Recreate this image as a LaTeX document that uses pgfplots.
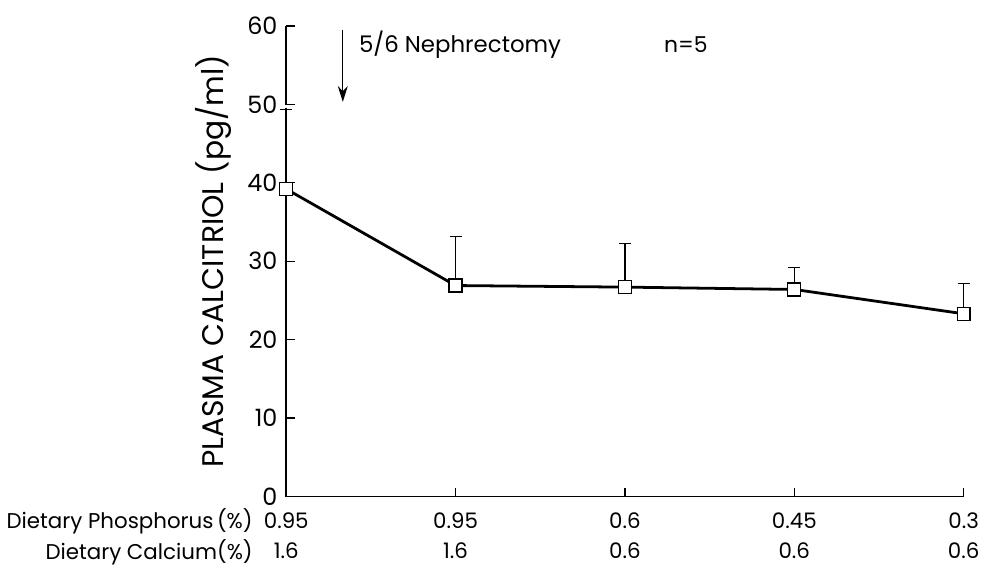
\documentclass[border=0pt]{standalone}
\usepackage{fontspec}
\setmainfont{Poppins}
\usepackage{pgfplots}
\pgfplotsset{compat=1.18}
\usetikzlibrary{arrows.meta}
\begin{document}
\fontsize{20}{24}\selectfont
\begin{tikzpicture}
\begin{axis}[
  scale only axis, width=682pt, height=474pt,
  xmin=0, xmax=4, ymin=0, ymax=60,
  axis lines=left, axis line style={-, line width=1.6pt},
  tick style={line width=1.4pt, black},
  tick align=inside, major tick length=9pt,
  ytick={0,10,20,30,40,50,60},
  xtick={0,1,2,3,4},
  xticklabels={{0.95\\1.6},{0.95\\1.6},{0.6\\0.6},{0.45\\0.6},{0.3\\0.6}},
  xticklabel style={align=center, font=\fontsize{21.5}{31}\selectfont, yshift=-9pt},
  yticklabel style={font=\fontsize{24}{28}\selectfont, xshift=-2pt},
  /pgf/number format/assume math mode=true,
  ylabel={PLASMA CALCITRIOL (pg/ml)},
  ylabel style={at={(axis description cs:-0.107,0.5)}, anchor=center, font=\fontsize{30}{34}\selectfont},
  clip=false,
]
\fill[white] (axis cs:-0.03,49.55) rectangle (axis cs:0.03,49.85);
\addplot[black, line width=2.8pt, mark=square*, mark size=6.5pt,
  mark options={fill=white, line width=1.3pt},
  error bars/.cd, y dir=plus, y explicit,
  error bar style={line width=1.2pt, black},
  error mark options={line width=1.2pt, mark size=6pt, black, rotate=90}]
  coordinates {
  (0,39.2) +- (0,10.1)
  (1,26.9) +- (0,6.3)
  (2,26.7) +- (0,5.6)
  (3,26.4) +- (0,2.8)
  (4,23.3) +- (0,3.9)
  };
\draw[-{Stealth[length=16pt,width=10pt]}, line width=1.2pt] (axis cs:0.334,59.5) -- (axis cs:0.334,50.3);
\node[anchor=west, font=\fontsize{23}{27}\selectfont] at (axis cs:0.39,57.6) {5/6 Nephrectomy};
\node[font=\fontsize{22}{26}\selectfont] at (axis cs:2.36,57.6) {n=5};
\node[anchor=base east, font=\fontsize{21.5}{25}\selectfont] at (axis cs:-0.158,-4.05) {Dietary Phosphorus\,(\%)};
\node[anchor=base east, font=\fontsize{21.5}{25}\selectfont] at (axis cs:-0.158,-7.97) {Dietary Calcium(\%)};
\path (axis cs:-1.6716,-8.73) rectangle (axis cs:4.111,63.29);
\end{axis}
\end{tikzpicture}
\end{document}
